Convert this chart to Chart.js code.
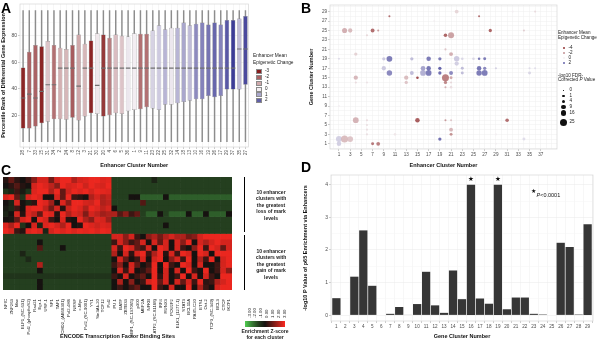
<!DOCTYPE html>
<html>
<head>
<meta charset="utf-8">
<script src="https://cdn.jsdelivr.net/npm/chart.js@4.4.0/dist/chart.umd.min.js"></script>
<style>
  body { margin: 0; background: #fff; }
  #fig { position: relative; width: 600px; height: 342px; overflow: hidden; font-family: "Liberation Sans", Arial, sans-serif; }
  #fig canvas { position: absolute; }
  .t { position: absolute; white-space: nowrap; line-height: 1; color: #222; }
</style>
</head>
<body>
<div id="fig">
  <canvas id="chartA" width="252" height="171" style="left:0;top:0"></canvas>
  <canvas id="chartB" width="300" height="171" style="left:300px;top:0"></canvas>
  <canvas id="chartC" width="240" height="171" style="left:0;top:171px"></canvas>
  <canvas id="chartD" width="300" height="171" style="left:300px;top:171px"></canvas>
</div>
<script>
// ---------- panel A : boxplots ----------
const enhancerOrder = [28,7,33,15,31,34,2,24,8,12,3,21,30,20,4,6,5,36,1,9,11,23,22,25,32,14,18,13,10,16,19,26,17,29,37,35,27];
const boxQ1 = [10,10,11.5,14,15,17,17,16.5,18,16,19,21.5,21,19,20,21.5,21,23,24,24.5,26,25,24,28,28,29,30,31,32,32,34.5,33.5,34.5,39.5,39.5,39.5,43];
const boxMedian = [33,36,33,38,43,43,55.5,55.5,55.5,42,55.5,55.5,42.5,55.5,55.5,55.5,55.5,55.5,55.5,55.5,55.5,55.5,55.5,55.5,55.5,55.5,55.5,55.5,55.5,55.5,55.5,55.5,55.5,55.5,55.5,70,70];
const boxQ3 = [56,68,73,72,76,73,71,70,73,81,74,76.5,82,81,78.5,81,80,79.5,82,81.5,81.5,84,88,85,86,86,90,88,89,90,88.5,90,88.5,92,92,93,95];
const whiskerLo = [0,0,0,0,0,0,0,0,0,0,0,0,0,0,0,0,0,0,0,0,0,0,0,0,0,0,0,0,0,0,0,0,0,0,0,0,0];
const whiskerHi = [99,99,99,99,99,99,99,99,99,99,99,99,99,99,99,99,99,99,99,99,99,99,99,99,99,99,99,99,99,99,99,99,99,99,99,99,99];
const boxChange = [-2.9,-2.0,-2.0,-2.9,-0.6,-1.8,-0.9,-0.8,-2.1,-1.0,-0.8,-2.9,-0.1,-2.6,-1.6,-0.7,-0.6,0.1,0.0,-1.8,-1.8,0.4,0.5,0.8,0.1,0.8,1.0,0.7,1.4,1.5,1.7,1.9,1.5,2.1,2.6,0.7,2.3];
const percentGrid = [10,20,30,40,50,60,70,80,90];
const changeLegendA = [-3,-2,-1,0,1,2];

// ---------- panel B : bubbles (enhancer x gene cluster) ----------
const bubbleEnh = [
  22,32,36, 10,26, 18, 2,3,7,8,28,34, 6,20,21, 20, 4,21,
  1,9,10,14,17,19,22,23,25,26,27, 22,
  9,16,17,19,23,26,27,29,35,36,
  10,14,16,17,19,21,23,26,27,35,
  4,13,15,20,21, 4,6,13,20,21, 20,21, 1,
  4,6,15,20,21,24,31, 6, 6,21, 6,11,21,29,
  1,2,3,19,34, 1,7,8,29];
const bubbleGene = [
  29,29,29, 28,28, 27, 25,25,25,25,25,25, 24,24,24, 21, 20,20,
  19,19,19,19,19,19,19,19,19,19,19, 18,
  17,17,17,17,17,17,17,17,17,17,
  16,16,16,16,16,16,16,16,16,16,
  15,15,15,15,15, 14,14,14,14,14, 13,13, 9,
  6,6,6,6,6,6,6, 5, 4,4, 3,3,3,3,
  2,2,2,2,2, 1,1,1,1];
const bubbleLogP = [
  6,1,1, 1,1, 1, 12,8,6,1,4,1, 1,5,18, 1, 4,6,
  1,4,16,4,9,4,14,2,2,2,3, 8,
  8,10,9,4,3,9,4,1,1,1,
  14,6,16,16,4,6,3,14,16,3,
  8,8,2,25,3, 1,1,4,4,1, 1,2, 1,
  16,1,9,1,1,1,5, 1, 1,6, 1,2,3,1,
  18,25,16,4,3, 9,3,6,1];
const bubbleChange = [
  -0.6,0,-0.5, -3,-3, 0, -1.5,-1.2,-3,-2,-3.2,-0.8, -0.6,-3.2,-1.8, -1, -0.7,-1.5,
  0.3,0.6,1.8,0.8,1.8,1.8,0.6,0.4,0.4,1.8,1.8, 0.5,
  0.6,1.2,1.9,2.2,0.8,1.9,1.6,0.5,0.3,0.3,
  1.6,0.8,1.0,1.8,2.0,1.6,0.8,1.8,1.8,0.4,
  -1.3,-1.2,-3.8,-2.6,-1.6, -0.5,-0.3,-1,-2.4,-0.6, -1.5,-0.4, 0,
  -1.4,-0.5,-3.4,-2,-1,0,-3, -0.4, -0.4,-1.3, -0.4,-0.2,-2.2,0,
  0.5,-1.2,-1.0,2.0,0.3, 0.5,-2.8,-2.6,0];
const enhTicks = [1,3,5,7,9,11,13,15,17,19,21,23,25,27,29,31,33,35,37];
const geneTicks = [1,3,5,7,9,11,13,15,17,19,21,23,25,27,29];
const changeLegendB = [-4,-2,0,2];
const pLegendB = [0,1,4,9,16,25];

// ---------- panel C : heatmap ----------
const heatClusters = [15,31,28,20,8,7,33,24,21,11,14,13,36,16,29,10,17,19,37,26];
const tfSites = ["NFIC","ZNF263","Max","ELF1_(SC-631)","Pol2_(phosphoS2)","Rad21","Egr-1","USF-1","SP1","TAF1",
  "CHD2_(AB68301)","Pol2-4H8","NRSF","c-Myc","Pol2_(SC-9001)","YY1","Sin3Ak-20","TCF12","Pol2",
  "PU.1","BATF","ZBTB33","EBF1_(SC-137065)","p300","MEF2A","NFKB","ATF2_(SC-81188)","IRF4","RUNX3",
  "POU2F2","ELK1_(1277-1)","STAT3","BCL11A","PAX5-C20","ETS1","Oct-2","TCF3_(SC-349)","BCL3","CTCF","IKZF1"];
const heatZ = [
  [0.2,1.0,0.3,0.0,0.5,1.5,2.5,2.5,1.2,2.5,2.8,2.8,2.0,2.5,2.6,2.8,2.8,2.6,2.7, -1,-1,-1,-1,-1,-1,-1,-0.5,-1,-1,-1,-1,-1,-1,-1,-1,-1,-1,-1,-1,-1],
  [0.0,0.3,0.8,0.2,0.0,2.5,2.8,2.6,2.2,1.5,2.8,2.5,2.6,2.8,2.4,2.8,2.6,2.5,2.8, -1,-1,-1,-1,-1,-1,-1,-1,-1,-1,-1,-1,-1,-1,-1,-1,-1,-1,-1,-1,-1],
  [-0.8,-0.5,0.5,-0.3,-0.8,2.6,2.8,2.8,2.0,2.8,1.0,2.4,2.8,2.6,2.8,2.5,2.8,2.7,2.6, -1,-1,-1,-1,-1,-1,-1,-1,-1,-1,-1,-1,-1,-1,-1,-1,-1,-1,-1,-1,-1],
  [2.5,2.8,1.0,-0.8,2.5,2.8,2.6,0.0,0.0,2.5,1.0,2.8,0.5,0.3,0.0,2.0,2.5,2.0,2.3, -1,-1,-1,0,0,-1.5,-1.5,-1.5,-1.5,0,-1.5,-1.5,-1.5,-1.5,-1.5,-1.5,-1.5,-1.5,-1.5,-1.5,-1.5],
  [0.0,-0.5,2.5,0.0,-0.5,0.3,2.8,2.6,1.8,0.0,2.6,1.5,2.8,2.8,2.5,2.4,2.8,2.0,2.2, -1,-1,-1,-1,-1,0.8,-1,-1,-1,-1,-1,-1,-1,-1,-1,-1,-1,-1,-1,-1,-1],
  [-0.3,-0.6,0.5,0.0,2.6,2.8,2.8,2.2,1.2,2.5,0.2,2.4,2.8,2.6,2.0,2.8,2.6,2.2,2.5, 0,-1,-1,-1,-1,-1,-1,-1,-1,-1,-1,-1,-1,-1,-1,-1,-1,-1,-1,-1,-1],
  [-0.5,0.0,2.5,0.2,2.6,2.2,1.0,2.8,2.6,0.2,2.8,2.0,2.6,2.4,1.4,2.5,2.2,1.8,2.0, 2.0,0.8,1.5,0.5,1.0,-1,-1.5,-1.5,0,-1,-1.5,-1.5,-1.5,0,-1.5,-1.5,0,-1.5,-1.5,-1.5,0],
  [0.0,-0.2,1.0,2.5,2.8,0.0,2.8,2.5,0.5,0.0,2.6,0.2,0.0,2.8,2.0,1.5,2.6,2.5,1.8, -1,-1,-1,-1,-1,-1,-1,-1,-1,-1,-1,-1,-1,-1,-1,-1,-1,-1,-1,-1,-1],
  [2.6,2.0,2.8,-0.8,0.0,2.5,-0.5,2.6,2.8,2.5,2.0,2.8,0.0,0.2,2.8,2.6,2.4,2.6,2.5, -1,-1,-1,-1,-1,-1,-1,-1,-1,0,-1,-1,-1,-1,-1,-1,-1,-1,-1,-1,-1],
  [2.8,2.5,0.5,0.2,2.6,2.8,2.6,-0.5,2.5,2.8,2.6,2.8,2.6,2.8,2.7,2.8,2.6,2.8,2.7, -1,-1,-1,-1,-1,-1,-1,-1,-1,-1,-1,-1,-1,-1,-1,-1,-1,-1,-1,-1,-1],
  [-1,-1,-1,-1,-1,-1,-1,-1,-1,-1,-1,-1,-1,-1,-1,-1,-1,-1,-1, 2.5,2.5,1.5,2.5,0.5,0.0,1.5,2.0,1.2,2.0,2.5,2.0,2.0,1.2,1.5,2.5,2.8,2.8,2.8,2.8,2.8],
  [-1,-1,-1,-1,-1,-1,0,-1,-1,-1,-1,-1,-1,-1,-1,-1,-1,-1,-1, 0.5,2.5,1.5,0.5,1.0,2.5,0.0,2.5,1.0,2.5,0.0,2.5,1.5,2.8,0.0,2.5,2.0,2.5,2.8,2.5,2.5],
  [-1,-1,-1,-1,-1,-1,0.8,-1,-1,-1,0,-1,-1,-1,-1,-1,-1,-1,-1, 2.5,0.5,2.8,2.5,1.0,0.5,2.5,0.0,2.8,2.5,0.0,2.5,0.5,0.0,1.5,2.8,0.5,2.8,2.5,1.0,2.5],
  [-1,-1,-1,-0.5,-1,-1,-1,-1,-1,-1,-1,-1,-1,-1,-1,-1,-1,-1,-1, 2.0,0.0,2.5,0.3,2.5,2.8,0.5,2.0,2.8,0.2,2.5,0.5,2.8,2.5,0.0,2.8,2.5,0.0,2.8,2.8,2.8],
  [-1,-1,-1,-1,-0.6,-1,-1,-1,-1,-1,-1,-1,-1,-1,-1,-1,-1,-1,-1, 0.0,2.5,1.0,0.0,0.5,2.5,0.0,2.5,2.8,0.0,1.5,2.5,0.5,2.8,0.0,2.0,0.5,2.8,0.0,2.5,2.8],
  [-1,-1,-1,-1,-1,-1,2.0,-1,-1,-1,-1,-1,-1,-1,-1,-1,-1,-1,-1, 0.5,1.5,0.0,2.5,1.0,0.0,0.5,2.8,0.0,2.8,0.5,0.0,2.8,2.5,0.0,2.5,0.0,0.0,0.5,2.5,2.8],
  [-1,-1,-1,-1,-1,-1,0,-1,-1,-1,-1,-1,-1,-1,-1,-1,-1,-1,-1, 0.0,2.5,0.5,2.5,0.0,0.3,1.0,2.8,0.0,2.5,0.0,2.5,0.0,2.8,0.5,0.0,2.8,0.0,0.5,2.5,1.5],
  [-0.8,-0.8,-0.8,-0.8,-0.8,-0.8,-0.8,-0.8,-0.8,-0.8,-0.8,-0.8,-0.8,-0.8,-0.8,-0.8,-0.8,-0.8,-0.8, 0.5,0.0,2.5,0.0,0.5,1.0,0.0,2.8,0.3,2.5,0.0,0.5,2.8,0.0,2.5,0.0,2.5,0.5,0.0,2.8,2.8],
  [-1,-1,-1,-1,-1,-1,0,-1,-1,-1,-1,-1,-1,-1,-1,-1,-1,-1,-1, 0.0,2.0,0.0,1.5,0.0,0.5,2.5,2.8,1.0,2.5,0.0,2.5,1.0,2.5,0.5,2.8,0.3,0.5,2.0,2.5,2.8],
  [-1,-1,-1,-1,-1,-1,0,-1,-1,-1,-1,-1,-1,-1,-1,-1,-1,-1,-1, 0.0,0.5,0.0,0.5,1.0,0.0,0.0,2.8,0.5,0.0,2.5,0.0,0.0,2.8,0.0,2.0,0.5,0.0,2.5,2.8,2.8]
];
const zLegend = [-3,-2,-1,0,1,2,3];

// ---------- panel D : p65 enrichment ----------
const geneClusters = [1,2,3,4,5,6,7,8,9,10,11,12,13,14,15,16,17,18,19,20,21,22,23,24,25,26,27,28,29];
const p65 = [0.52,0,1.18,2.6,0.9,0,0.04,0.25,0.01,0.34,1.33,0.3,0.07,1.37,0.49,4,0.51,0.35,4,0.18,0.54,0.54,0.04,0.02,0,2.22,2.09,0.02,2.79];
const starredClusters = [16,19];
const p65Grid = [0,0.5,1,1.5,2,2.5,3,3.5,4];

// ---------- helpers ----------
const FONT = "'Liberation Sans', Arial, Helvetica, sans-serif";
Chart.defaults.font.family = FONT;
Chart.defaults.color = '#4d4d4d';
Chart.defaults.animation = false;
Chart.defaults.events = [];
Chart.defaults.plugins.legend.display = false;
Chart.defaults.plugins.tooltip.enabled = false;

const rgb = (a, alpha) => `rgba(${Math.round(a[0])},${Math.round(a[1])},${Math.round(a[2])},${alpha === undefined ? 1 : alpha})`;

// diverging red - white - blue scale for epigenetic change
function changeColor(c, negMax, posMax, alpha) {
  const white = [243, 238, 242], red = [135, 30, 30], blue = [60, 60, 150];
  const t = Math.min(Math.abs(c) / (c < 0 ? negMax : posMax), 1);
  const end = c < 0 ? red : blue;
  return rgb(white.map((w, k) => w + (end[k] - w) * t), alpha);
}

// green - black - red for heatmap z-scores
function zColor(z) {
  const dark = [22, 18, 16];
  if (z < 0) {
    const t = Math.pow(Math.min(-z / 3, 1), 1.3);
    return rgb(dark.map((d, k) => d + ([80, 205, 80][k] - d) * t));
  }
  const t = Math.min(z / 3, 1);
  return rgb(dark.map((d, k) => d + ([250, 40, 32][k] - d) * t));
}

const bubbleRadius = p => 0.4 + 0.62 * Math.sqrt(p);
const intRange = (a, b) => { const out = []; for (let v = a; v <= b; v++) out.push(v); return out; };

const panelBorder = {
  id: 'panelBorder',
  afterDraw(chart) {
    const a = chart.chartArea, ctx = chart.ctx;
    ctx.save();
    ctx.strokeStyle = '#d6d6d6';
    ctx.lineWidth = 0.7;
    ctx.strokeRect(a.left, a.top, a.right - a.left, a.bottom - a.top);
    ctx.restore();
  }
};

const axisTitle = (text) => ({ display: true, text, color: '#111', font: { size: 5.5, weight: 'bold' }, padding: { top: 0, bottom: 2 } });

// ---------- chart A ----------
new Chart(document.getElementById('chartA'), {
  type: 'bar',
  data: {
    labels: enhancerOrder.map(String),
    datasets: [
      { data: boxMedian.map(m => [m - 0.45, m + 0.45]), backgroundColor: '#707070', order: 1, grouped: false, barPercentage: 0.74, categoryPercentage: 1 },
      { data: boxQ1.map((q, i) => [q, boxQ3[i]]), backgroundColor: boxChange.map(c => changeColor(c, 3, 2.5)), borderColor: '#858585', borderWidth: 0.5, borderSkipped: false, order: 2, grouped: false, barPercentage: 0.74, categoryPercentage: 1 },
      { data: whiskerLo.map((v, i) => [v, whiskerHi[i]]), backgroundColor: '#8d8d8d', barThickness: 0.8, order: 3, grouped: false }
    ]
  },
  options: {
    responsive: false,
    layout: { padding: { left: 0, right: 2, top: 3, bottom: 0 } },
    scales: {
      x: {
        grid: { offset: false, color: '#ececec', lineWidth: 0.5, tickLength: 2, tickColor: '#999' },
        border: { display: false },
        ticks: { autoSkip: false, minRotation: 90, maxRotation: 90, padding: 1, font: { size: 4.6 } },
        title: axisTitle('Enhancer Cluster Number'),
        afterFit: s => { s.height = 24; }
      },
      y: {
        min: -4, max: 104,
        afterBuildTicks: s => { s.ticks = percentGrid.map(v => ({ value: v })); },
        grid: { color: c => (c.tick && c.tick.value % 20 === 0) ? '#e6e6e6' : '#f4f4f4', lineWidth: 0.5, tickLength: 2,
                tickColor: c => (c.tick && c.tick.value % 20 === 0) ? '#999' : 'rgba(0,0,0,0)' },
        border: { display: false },
        ticks: { padding: 1, font: { size: 5 }, callback: v => v % 20 === 0 ? v : '' },
        title: axisTitle('Percentile Rank of Differential Gene Expression'),
        afterFit: s => { s.width = 20; }
      }
    }
  },
  plugins: [panelBorder]
});

// ---------- chart B ----------
new Chart(document.getElementById('chartB'), {
  type: 'bubble',
  data: {
    datasets: [{
      data: bubbleEnh.map((x, i) => ({ x, y: bubbleGene[i], r: bubbleRadius(bubbleLogP[i]) })),
      backgroundColor: bubbleChange.map(c => changeColor(c, 4, 2.3, 0.82)),
      borderWidth: 0
    }]
  },
  options: {
    responsive: false,
    layout: { padding: { left: 8, right: 43, top: 5, bottom: 0 } },
    scales: {
      x: {
        type: 'linear', min: -0.6, max: 39.9,
        afterBuildTicks: s => { s.ticks = intRange(0, 39).map(v => ({ value: v })); },
        grid: { color: '#efefef', lineWidth: 0.5, tickLength: 2, tickColor: c => enhTicks.includes(c.tick && c.tick.value) ? '#999' : 'rgba(0,0,0,0)' },
        border: { display: false },
        ticks: { autoSkip: false, maxRotation: 0, padding: 1, font: { size: 4.6 }, callback: v => enhTicks.includes(v) ? v : '' },
        title: axisTitle('Enhancer Cluster Number'),
        afterFit: s => { s.height = 22; }
      },
      y: {
        type: 'linear', min: -0.1, max: 30.4,
        afterBuildTicks: s => { s.ticks = intRange(0, 30).map(v => ({ value: v })); },
        grid: { color: '#efefef', lineWidth: 0.5, tickLength: 2, tickColor: c => geneTicks.includes(c.tick && c.tick.value) ? '#999' : 'rgba(0,0,0,0)' },
        border: { display: false },
        ticks: { autoSkip: false, padding: 1, font: { size: 4.6 }, callback: v => geneTicks.includes(v) ? v : '' },
        title: axisTitle('Gene Cluster Number'),
        afterFit: s => { s.width = 22; }
      }
    }
  },
  plugins: [panelBorder]
});

// ---------- chart C ----------
new Chart(document.getElementById('chartC'), {
  type: 'bar',
  data: {
    labels: tfSites,
    datasets: heatZ.map((row, i) => ({
      data: row.map(() => [19 - i, 20 - i]),
      backgroundColor: row.map(zColor),
      grouped: false, barPercentage: 1, categoryPercentage: 1, borderWidth: 0
    }))
  },
  options: {
    responsive: false,
    layout: { padding: { left: 3, right: 0, top: 6, bottom: 0 } },
    scales: {
      x: {
        grid: { display: false }, border: { display: false },
        ticks: { autoSkip: false, minRotation: 90, maxRotation: 90, padding: 1, color: '#222', font: { size: 4.3 } },
        title: axisTitle('ENCODE Transcription Factor Binding Sites'),
        afterFit: s => { s.height = 52; }
      },
      y: {
        position: 'right', min: 0, max: 20,
        afterBuildTicks: s => { s.ticks = heatClusters.map((_, i) => ({ value: 19.5 - i })); },
        grid: { display: false }, border: { display: false },
        ticks: { autoSkip: false, padding: 1, color: '#222', font: { size: 4.6 }, callback: v => heatClusters[Math.round(19.5 - v)] },
        afterFit: s => { s.width = 8; }
      }
    }
  }
});

// ---------- chart D ----------
const starPlugin = {
  id: 'stars',
  afterDatasetsDraw(chart) {
    const { ctx, scales: { x, y } } = chart;
    ctx.save();
    ctx.fillStyle = '#111';
    ctx.font = '6.5px "DejaVu Sans"';
    ctx.textAlign = 'center';
    ctx.textBaseline = 'middle';
    starredClusters.forEach(g => {
      ctx.fillText('★', x.getPixelForValue(g), y.getPixelForValue(p65[g - 1]) - 5.5);
    });
    ctx.restore();
  }
};

new Chart(document.getElementById('chartD'), {
  type: 'bar',
  data: {
    datasets: [{
      data: geneClusters.map((g, i) => ({ x: g, y: p65[i] })),
      backgroundColor: '#363636', barPercentage: 0.92, categoryPercentage: 1
    }]
  },
  options: {
    responsive: false,
    layout: { padding: { left: 2, right: 7, top: 2, bottom: 0 } },
    scales: {
      x: {
        type: 'linear', min: 0.4, max: 29.6, offset: false,
        afterBuildTicks: s => { s.ticks = geneClusters.map(v => ({ value: v })); },
        grid: { color: '#efefef', lineWidth: 0.5, tickLength: 2, tickColor: '#999' },
        border: { display: false },
        ticks: { autoSkip: false, maxRotation: 0, padding: 1, font: { size: 4.6 } },
        title: axisTitle('Gene Cluster Number'),
        afterFit: s => { s.height = 21; }
      },
      y: {
        min: -0.18, max: 4.3,
        afterBuildTicks: s => { s.ticks = p65Grid.map(v => ({ value: v })); },
        grid: { color: c => (c.tick && Number.isInteger(c.tick.value)) ? '#e8e8e8' : '#f5f5f5', lineWidth: 0.5, tickLength: 2,
                tickColor: c => (c.tick && Number.isInteger(c.tick.value)) ? '#999' : 'rgba(0,0,0,0)' },
        border: { display: false },
        ticks: { padding: 1, font: { size: 5 }, callback: v => Number.isInteger(v) ? v : '' },
        title: axisTitle('-log10 P Value of p65 Enrichment via Enhancers'),
        afterFit: s => { s.width = 29; }
      }
    }
  },
  plugins: [panelBorder, starPlugin]
});

// ---------- html text: letters, legends, notes ----------
const fig = document.getElementById('fig');
function addText(text, x, y, o = {}) {
  const d = document.createElement('div');
  d.className = 't';
  const size = o.size || 5;
  if (o.html) d.innerHTML = text; else d.textContent = text;
  d.style.fontSize = size + 'px';
  d.style.left = x + 'px';
  d.style.top = (y - size * 0.5) + 'px';
  if (o.bold) d.style.fontWeight = 'bold';
  if (o.color) d.style.color = o.color;
  if (o.family) d.style.fontFamily = o.family;
  if (o.center) d.style.transform = 'translateX(-50%)';
  fig.appendChild(d);
  return d;
}
function addBox(x, y, w, h, style) {
  const d = document.createElement('div');
  d.style.position = 'absolute';
  d.style.left = x + 'px'; d.style.top = y + 'px';
  d.style.width = w + 'px'; d.style.height = h + 'px';
  Object.assign(d.style, style || {});
  fig.appendChild(d);
  return d;
}

// panel letters
addText('A', 1, 8, { size: 14, bold: true, color: '#000' });
addText('B', 301, 8, { size: 14, bold: true, color: '#000' });
addText('C', 1, 170, { size: 14, bold: true, color: '#000' });
addText('D', 301, 167, { size: 14, bold: true, color: '#000' });

// legend A
addText('Enhancer Mean', 253, 56.7, { size: 4.8 });
addText('Epigenetic Change', 253, 63.3, { size: 4.8 });
changeLegendA.forEach((c, i) => {
  const y = 71.7 + i * 5.8;
  addBox(255.5, y - 2.5, 6, 5, { background: changeColor(c, 3, 2.5), boxSizing: 'border-box', border: '0.5px solid #8a8a8a' });
  addText(String(c), 265, y, { size: 4.6 });
});

// legend B
addText('Enhancer Mean', 558, 33.5, { size: 4.6 });
addText('Epigenetic Change', 558, 38.7, { size: 4.6 });
changeLegendB.forEach((c, i) => {
  const y = 48.3 + i * 4.9;
  addBox(562.5, y - 1, 2, 2, { background: changeColor(c, 4, 2.3, 0.9), borderRadius: '50%' });
  addText(String(c), 568.5, y, { size: 4.6 });
});
addText('-log10 FDR-', 558, 76, { size: 4.6 });
addText('Corrected <i>P</i> Value', 558, 80.7, { size: 4.6, html: true });
const pLegendY = [90.7, 96, 101.3, 107, 113.3, 122];
pLegendB.forEach((p, i) => {
  const r = p === 0 ? 0.3 : bubbleRadius(p);
  addBox(563.5 - r, pLegendY[i] - r, 2 * r, 2 * r, { background: '#111', borderRadius: '50%' });
  addText(String(p), 569.5, pLegendY[i], { size: 4.6 });
});

// panel C notes
addBox(243.5, 177, 1.6, 55, { background: '#000' });
addBox(243.5, 235, 1.6, 55, { background: '#000' });
['10 enhancer', 'clusters with', 'the greatest', 'loss of mark', 'levels'].forEach((s, i) => addText(s, 271, 192 + i * 6.6, { size: 5, bold: true, center: true }));
['10 enhancer', 'clusters with', 'the greatest', 'gain of mark', 'levels'].forEach((s, i) => addText(s, 271, 251 + i * 6.6, { size: 5, bold: true, center: true }));

// heat legend
addBox(245, 321, 40, 6, { background: 'linear-gradient(to right,' + zLegend.map(zColor).join(',') + ')' });
zLegend.forEach((z, i) => {
  const d = addText(z.toFixed(2), 0, 0, { size: 4.4 });
  d.style.left = (247.5 + i * 5.9) + 'px';
  d.style.top = '318px';
  d.style.transformOrigin = '0 0';
  d.style.transform = 'rotate(-90deg)';
});
addText('Enrichment Z-score', 265, 331.5, { size: 5, bold: true, center: true });
addText('for each cluster', 265, 337.5, { size: 5, bold: true, center: true });

// panel D note
addText('★', 531, 191, { size: 6, family: '"DejaVu Sans"', color: '#111' });
addText('<i>P</i>&lt;0.0001', 536.5, 196, { size: 5.5, html: true, color: '#111' });
</script>
</body>
</html>
